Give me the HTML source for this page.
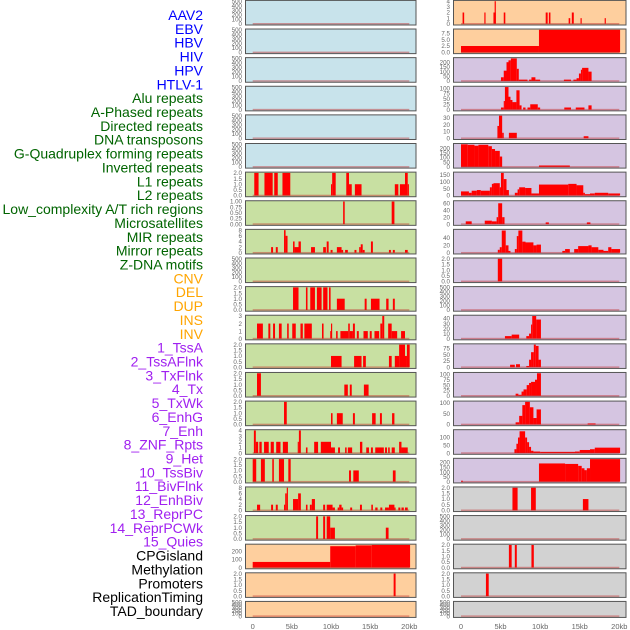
<!DOCTYPE html>
<html><head><meta charset="utf-8"><style>
body{margin:0;background:#fff;}
svg{display:block;font-family:"Liberation Sans",sans-serif;}
</style></head><body>
<svg id="chart" width="630" height="630" viewBox="0 0 630 630"></svg>
<script>
const trackLabels=["AAV2","EBV","HBV","HIV","HPV","HTLV-1","Alu repeats","A-Phased repeats","Directed repeats","DNA transposons","G-Quadruplex forming repeats","Inverted repeats","L1 repeats","L2 repeats","Low_complexity A/T rich regions","Microsatellites","MIR repeats","Mirror repeats","Z-DNA motifs","CNV","DEL","DUP","INS","INV","1_TssA","2_TssAFlnk","3_TxFlnk","4_Tx","5_TxWk","6_EnhG","7_Enh","8_ZNF_Rpts","9_Het","10_TssBiv","11_BivFlnk","12_EnhBiv","13_ReprPC","14_ReprPCWk","15_Quies","CPGisland","Methylation","Promoters","ReplicationTiming","TAD_boundary"];
const labelGroups=[0,0,0,0,0,0,1,1,1,1,1,1,1,1,1,1,1,1,1,2,2,2,2,2,3,3,3,3,3,3,3,3,3,3,3,3,3,3,3,4,4,4,4,4];
const groupColors=["#0000ff","#006400","#ffa500","#a020f0","#000000"];
const xTicks=[0,5,10,15,20];
const xTickLabels=["0","5kb","10kb","15kb","20kb"];
const leftBg=["b","b","b","b","b","b","g","g","g","g","g","g","g","g","g","g","g","g","g","o","o","o"];
const rightBg=["o","o","p","p","p","p","p","p","p","p","p","p","p","p","p","p","p","y","y","y","y","y"];
const leftMax=[500,500,500,500,500,500,2,1,8,500,2,3,2,2,2,4,2,8,2,280,2,500];
const rightMax=[4,8.8,240,105,33,240,165,65,61,2,500,45,90,105,105,145,235,2,500,2,2,500];
const T5=[0,100,200,300,400,500],T2=[0,0.5,1,1.5,2];
const leftTicks=[T5,T5,T5,T5,T5,T5,T2,[0,0.25,0.5,0.75,1],[0,2,4,6,8],T5,T2,[0,1,2,3],T2,T2,T2,[0,1,2,3,4],T2,[0,2,4,6,8],T2,[0,100,200],T2,T5];
const rightTicks=[[0,1,2,3,4],[0,2.5,5,7.5],[0,50,100,150,200],[0,25,50,75,100],[0,10,20,30],[0,50,100,150,200],[0,50,100,150],[0,20,40,60],[0,20,40],T2,T5,[0,10,20,30,40],[0,25,50,75],[0,25,50,75,100],[0,50,100],[0,50,100],[0,50,100,150,200],T2,T5,T2,T2,T5];
const L7=[[0.2,0.75,2],[1.5,2.55,2],[2.75,3.2,2],[3.8,4.8,2],[10,10.15,1],[10.15,10.6,2],[11.95,12.3,2],[12.3,12.65,1],[13.05,13.9,1],[18.15,18.6,1],[18.8,19.45,1],[19.45,19.8,2],[19.8,19.95,1]];
const L8=[[11.55,11.75,1],[17.75,18.1,1]];
const L9=[[2.35,2.6,2],[2.95,3.2,2],[4,4.2,8],[4.2,4.45,6],[5.15,5.35,4],[5.35,5.85,2],[5.85,6.15,4],[7.45,7.95,2],[9,9.35,2],[9.45,9.7,4],[9.95,10.2,1],[10.75,11.35,2],[11.35,11.55,1],[11.8,12.15,1],[13,13.25,1],[13.6,13.8,2],[13.8,14.05,3],[14.05,14.3,1],[15.1,15.35,4],[17.4,17.65,1],[17.9,18.15,1],[19.45,19.8,1]];
const L11=[[5.15,5.85,2],[6.8,7,2],[7.35,7.95,2],[8.2,8.8,2],[9,9.55,2],[9.75,9.95,2],[10.75,11.75,1],[14.3,14.55,1],[15.1,16.2,1],[17.05,17.35,1],[17.9,18.15,1]];
const L12=[[0.55,1.3,2],[2,2.25,2],[2.6,2.85,2],[3.35,3.7,2],[4.4,4.6,2],[5.05,5.5,2],[6.1,6.4,2],[6.6,7.55,2],[8.85,9.05,2],[9.9,10,1],[10,10.15,2],[10.65,10.85,1],[11.2,12.2,1],[12.2,12.4,2],[12.4,12.8,1],[12.8,13.05,2],[13.3,13.55,1],[14.15,14.7,1],[14.95,15.2,1],[15.55,16.15,1],[16.3,16.55,2],[16.55,16.8,3],[17.3,17.75,2],[17.75,18.45,1],[18.95,19.45,1]];
const L13=[[10,11.35,1],[12.95,13.9,1],[14.1,14.45,1],[17.4,17.75,1],[18.15,18.7,1],[18.7,19.45,2],[19.45,19.7,1],[19.7,20.05,2]];
const L14=[[0.55,1.05,2],[11.7,12.15,1],[12.4,12.65,1],[14.2,14.8,1]];
const L15=[[4,4.35,2],[10,10.2,1],[10.75,11.5,1],[12.8,13.05,1],[15.25,15.7,1],[16.25,16.5,1],[17.8,18.1,1]];
const L16=[[0.15,0.4,4],[0.4,0.7,2],[0.85,1.15,2],[1.45,2.05,2],[2.3,2.7,2],[3,3.55,2],[3.85,4.5,2],[5.75,5.9,2],[5.9,6.15,4],[6.8,7,1],[7.85,8.35,2],[8.7,10,2],[10,10.5,1],[10.9,11.15,1],[11.8,12,1],[12.15,12.7,1],[13.7,14,2],[14.5,14.85,1],[15.1,15.35,1],[15.65,16.75,1],[16.9,17.15,1],[17.3,17.5,1],[17.75,18.15,1],[18.7,19,2],[19,19.8,1]];
const L17=[[0,0.45,2],[1.05,1.55,2],[2.5,2.7,2],[3.35,4,2],[4.55,4.85,2],[12.3,12.55,1],[12.85,13.55,1],[17.9,18.25,1]];
const L18=[[0.55,0.95,2],[2.35,2.6,2],[2.95,3.2,2],[4,4.15,2],[4.15,4.35,6],[4.35,4.5,8],[5.15,5.8,4],[5.8,6.15,6],[6.8,7,2],[7.3,7.55,2],[7.55,7.95,4],[9,9.25,2],[9.45,10.2,2],[10.2,10.5,1],[10.85,11.05,1],[11.05,11.35,2],[11.35,11.55,1],[12.45,12.7,1],[13.7,13.95,2],[15.15,15.35,2],[15.65,15.95,1],[16.3,16.55,1],[16.9,17.4,1],[17.4,18.1,2],[18.1,18.25,1],[18.6,18.85,1],[19,19.3,1],[19.45,19.8,1]];
const L19=[[8.1,8.35,2],[9,9.25,2],[9.45,9.9,2],[9.9,10.5,1],[17,17.35,1]];
const L20=[[0,9.9,70],[9.9,13.15,265],[13.15,15.2,275],[15.2,20.1,280]];
const L21=[[18,18.25,2]];
const R1=[[0.2,0.4,2],[2.95,3.1,2],[4.1,4.4,2],[4.25,4.4,4],[5.4,5.6,2],[10.7,10.95,2],[11.1,11.3,2],[13.6,13.8,1],[14,14.25,2],[15.1,15.25,1],[18.15,18.3,1]];
const R2=[[0,9.85,2.5],[9.85,20.1,8.8]];
const R3=[[5.05,5.4,40],[5.4,5.75,110],[5.75,6,200],[6,6.3,220],[6.3,7.05,240],[7.05,7.3,130],[7.3,8.4,15],[8.6,8.9,15],[8.9,9.4,40],[9.4,10,15],[13,13.9,15],[14.2,14.6,15],[14.6,14.9,30],[14.9,15.15,80],[15.15,15.3,120],[15.3,16.1,140],[16.1,16.5,100]];
const R4=[[5.05,5.4,10],[5.4,5.55,40],[5.55,6,105],[6,6.25,60],[6.25,6.5,45],[6.5,7,35],[7,7.4,90],[7.4,7.65,20],[7.85,8.15,10],[8.4,8.75,10],[8.75,9.7,25],[9.7,10,10],[13.05,13.9,10],[14.5,15.6,10],[16.1,16.5,20]];
const R5=[[4.6,4.8,18],[4.8,5.2,33],[5.2,5.4,8],[6.05,7.05,8],[15.5,16.1,3]];
const R6=[[0,0.85,240],[0.85,1.7,235],[1.7,2.2,225],[2.2,3.45,235],[3.45,3.9,220],[3.9,4.3,190],[4.3,4.9,170],[4.9,5.2,110],[9.85,13.75,15]];
const R7=[[0,1,30],[1,1.35,20],[1.35,2,35],[2,2.5,40],[2.5,3.65,35],[3.65,3.9,60],[3.9,4.1,85],[4.1,4.9,90],[4.9,5.05,60],[5.05,5.4,165],[5.4,5.75,120],[5.75,6.05,40],[6.8,7.15,20],[7.15,7.35,45],[7.35,8.1,60],[8.1,8.9,55],[8.9,9.85,15],[9.85,13.55,80],[13.55,14.6,85],[14.6,15.45,75],[15.45,15.65,20],[15.65,16.3,10],[16.3,16.9,15],[16.9,18.6,20],[18.6,20.1,15]];
const R8=[[0.6,1.35,8],[3,3.9,10],[3.9,4.5,8],[4.5,4.7,20],[4.7,5.2,60],[5.2,5.5,20],[10.7,11.1,5],[15.9,16.35,5]];
const R9=[[4.65,4.9,8],[4.9,5.15,15],[5.15,5.65,60],[5.65,6,20],[6,6.25,5],[6.8,7.05,10],[7.05,7.25,45],[7.25,7.75,60],[7.75,8.15,30],[8.15,9.15,28],[9.15,9.55,20],[9.55,10.1,22],[12.8,13.15,5],[13.15,13.75,10],[14.3,14.8,10],[14.8,16.1,18],[16.1,16.5,20],[16.5,17.35,15],[17.35,18,8],[18,18.6,5],[18.6,19,15],[19,20.1,10]];
const R10=[[4.65,5.2,2]];
const R12=[[5.55,6.4,5],[6.4,7.35,8],[8.25,8.6,5],[8.6,8.85,10],[8.85,9,28],[9,9.5,45],[9.5,10.1,38]];
const R13=[[6.2,6.8,10],[6.95,7.45,12],[8.25,8.6,5],[8.6,8.85,30],[8.85,9.2,60],[9.2,9.45,90],[9.45,9.8,85],[9.8,10.1,30]];
const R14=[[6.9,7.25,10],[7.25,7.65,5],[7.65,7.9,20],[7.9,8.3,30],[8.3,8.6,50],[8.6,8.85,60],[8.85,9.35,65],[9.35,9.6,75],[9.6,10.1,105]];
const R15=[[6.9,7.35,10],[7.35,7.75,40],[7.75,8.1,90],[8.1,8.7,105],[8.7,9.15,80],[9.15,9.55,30],[9.55,10.1,70],[16,17,5]];
const R16=[[6.75,7,25],[7,7.2,60],[7.2,7.4,100],[7.4,8.1,140],[8.1,8.35,100],[8.35,8.6,70],[8.6,8.85,40],[8.85,9.15,15],[9.15,10,10],[10,14.4,8],[14.4,15,10],[15,16.3,20],[16.3,16.9,25],[16.9,20.1,35]];
const R17=[[0,0.25,10],[9.85,13.15,190],[13.15,14.8,185],[14.8,15.25,165],[15.25,15.6,140],[15.6,15.9,120],[15.9,16.3,140],[16.3,20.1,235]];
const R18=[[6.5,7.15,2],[8.85,9.45,2],[15.4,16.1,1]];
const R20=[[6.05,6.4,2],[6.8,7.05,2],[8.9,9.2,2]];
const R21=[[3.15,3.5,2]];
const leftSeries=[[],[],[],[],[],[],L7,L8,L9,[],L11,L12,L13,L14,L15,L16,L17,L18,L19,L20,L21,[]];
const rightSeries=[R1,R2,R3,R4,R5,R6,R7,R8,R9,R10,[],R12,R13,R14,R15,R16,R17,R18,[],R20,R21,[]];

const NS="http://www.w3.org/2000/svg";
const svg=document.getElementById("chart");
const bgColors={b:"#c8e3eb",g:"#c8e0a2",o:"#fecf9e",p:"#d5c5e1",y:"#d2d2d2"};
function mk(tag,attrs,parent){const e=document.createElementNS(NS,tag);for(const k in attrs)e.setAttribute(k,attrs[k]);(parent||svg).appendChild(e);return e;}
function fmt(v,arr){const dec=arr.some(t=>t%1!==0)?(arr.some(t=>(t*10)%1!==0)?2:1):0;return v.toFixed(dec);}
const cols=[{x0:245.5,x1:416,k0:252.7,k1:409.3,tickX:242},{x0:453.5,x1:626,k0:461,k1:619.3,tickX:450}];
function rowTop(i){return 0.4+i*28.62;}
function rowH(i){return i===21?16:24.6;}

trackLabels.forEach((t,i)=>{
  const tx=mk("text",{x:203,y:15+i*13.86+5,"text-anchor":"end","font-size":14,fill:groupColors[labelGroups[i]]});
  
  
  tx.textContent=t;
});

for(let r=0;r<22;r++){
  [0,1].forEach(c=>{
    const col=cols[c];
    const top=rowTop(r),h=rowH(r),bot=top+h;
    const ymax=c?rightMax[r]:leftMax[r];
    const ticks=c?rightTicks[r]:leftTicks[r];
    const series=c?rightSeries[r]:leftSeries[r];
    const bg=c?rightBg[r]:leftBg[r];
    const g=mk("g",{});
    
    
    const rect=mk("rect",{x:col.x0,y:top,width:col.x1-col.x0,height:h,fill:bgColors[bg],stroke:"#555",'stroke-width':1},g);
    
    
    const y0=bot-1.2, y1=top+0.8;
    const ys=v=>y0-(v/ymax)*(y0-y1);
    const xs=k=>col.k0+(k/20)*(col.k1-col.k0);
    series.forEach(s=>{
      const b=mk("rect",{x:xs(s[0]),y:ys(s[2]),width:Math.max(0.8,xs(s[1])-xs(s[0])),height:y0-ys(s[2]),fill:"#ff0000"},g);
      
      
    });
    const base=mk("rect",{x:xs(0),y:y0-0.8,width:xs(20)-xs(0),height:1.4,fill:"rgba(190,40,40,0.45)"},g);
    
    
    ticks.forEach(v=>{
      const t=mk("text",{x:col.tickX,y:ys(v)+2.2,"text-anchor":"end","font-size":6.2,fill:"#666"},g);
      
      
      t.textContent=fmt(v,ticks);
    });
  });
}
[0,1].forEach(c=>{
  const col=cols[c];
  xTicks.forEach((k,i)=>{
    const t=mk("text",{x:col.k0+(k/20)*(col.k1-col.k0),y:629,"text-anchor":"middle","font-size":7.5,fill:"#666"});
    
    
    t.textContent=xTickLabels[i];
  });
});
</script>
</body></html>
